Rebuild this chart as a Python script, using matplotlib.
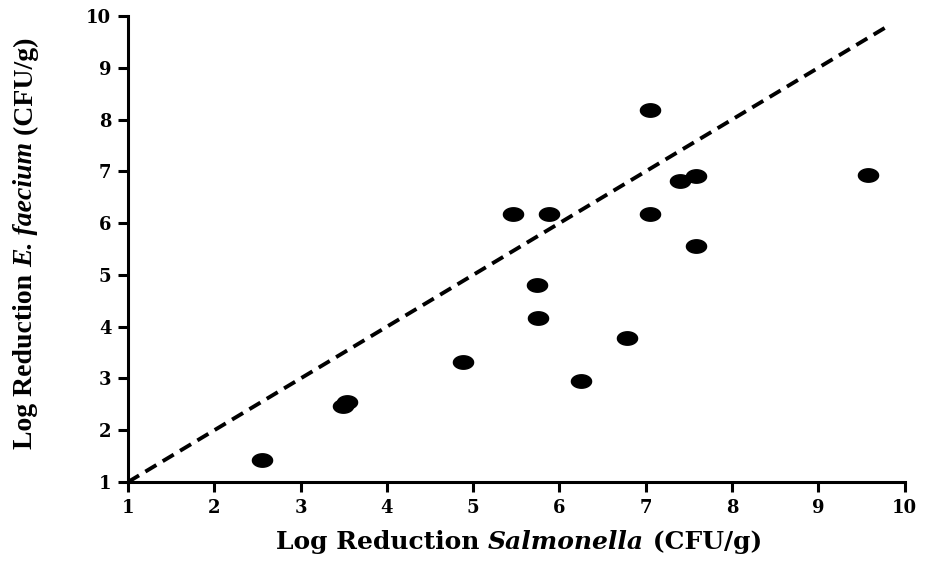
import numpy as np
import matplotlib.pyplot as plt
from matplotlib.path import Path

plt.rcParams['font.family'] = ['DejaVu Serif']

# log reductions
salmonella = [2.55, 3.49, 3.54, 4.88, 5.46, 5.88, 5.74, 5.75, 6.78, 6.25,
              7.05, 7.05, 7.40, 7.58, 7.58, 9.58]
faecium = [1.42, 2.47, 2.54, 3.32, 6.17, 6.17, 4.80, 4.17, 3.78, 2.95,
           8.18, 6.17, 6.81, 6.91, 5.56, 6.93]
line_end = 9.78
ticks = list(range(1, 11))
xlabel_parts = [('Log Reduction ', 'normal'), ('Salmonella', 'italic'),
                (' (CFU/g)', 'normal')]
ylabel_parts = [('Log Reduction ', 'normal'), ('E. faecium', 'italic'),
                (' (CFU/g)', 'normal')]

# ellipse marker, wider than tall
t = np.linspace(0, 2*np.pi, 60)
ellipse = Path(np.column_stack([1.5*np.cos(t), np.sin(t)]), closed=True)

fig = plt.figure(figsize=(9.25, 5.61), dpi=100)
ax = fig.add_axes([0.1384, 0.1408, 0.8396, 0.8307])

ax.plot([1, line_end], [1, line_end], color='black', lw=2.8,
        linestyle=(0, (3.3, 1.9)))
ax.plot(salmonella, faecium, linestyle='none', marker=ellipse,
        markersize=14.5, color='black')

ax.set_xlim(1, 10)
ax.set_ylim(1, 10)
ax.set_xticks(ticks)
ax.set_yticks(ticks)
for s in ['top', 'right']:
    ax.spines[s].set_visible(False)
for s in ['left', 'bottom']:
    ax.spines[s].set_linewidth(2.2)
ax.tick_params(width=2.2, length=7, labelsize=13, pad=5)
for lab in ax.get_xticklabels() + ax.get_yticklabels():
    lab.set_fontweight('bold')

# labels with mixed italic, built from pieces chained together
xl = []
for i, (txt, st) in enumerate(xlabel_parts):
    if i == 0:
        a = ax.annotate(txt, xy=(0, 12), xycoords='figure pixels',
                        ha='left', va='baseline')
    else:
        a = ax.annotate(txt, xy=(1, 0), xycoords=xl[-1], ha='left', va='bottom')
    a.set_fontsize(18)
    a.set_fontweight('bold')
    a.set_fontstyle(st)
    xl.append(a)

yl = []
for i, (txt, st) in enumerate(ylabel_parts):
    if i == 0:
        a = ax.annotate(txt, xy=(26, 0), xycoords='figure pixels',
                        ha='center', va='bottom', rotation=90)
    else:
        a = ax.annotate(txt, xy=(0, 1), xycoords=yl[-1], ha='left',
                        va='bottom', rotation=90)
    a.set_family('Liberation Serif')
    a.set_fontsize(20)
    a.set_fontweight('bold')
    a.set_fontstyle(st)
    yl.append(a)

# centre the label groups
fig.canvas.draw()
r = fig.canvas.get_renderer()
x0 = xl[0].get_window_extent(r).x0
x1 = xl[-1].get_window_extent(r).x1
xl[0].xyann = (519 - (x1 - x0) / 2, 12)
y0 = yl[0].get_window_extent(r).y0
y1 = yl[-1].get_window_extent(r).y1
yl[0].xyann = (26, 318 - (y1 - y0) / 2)

fig.savefig('out.png', dpi=100)
